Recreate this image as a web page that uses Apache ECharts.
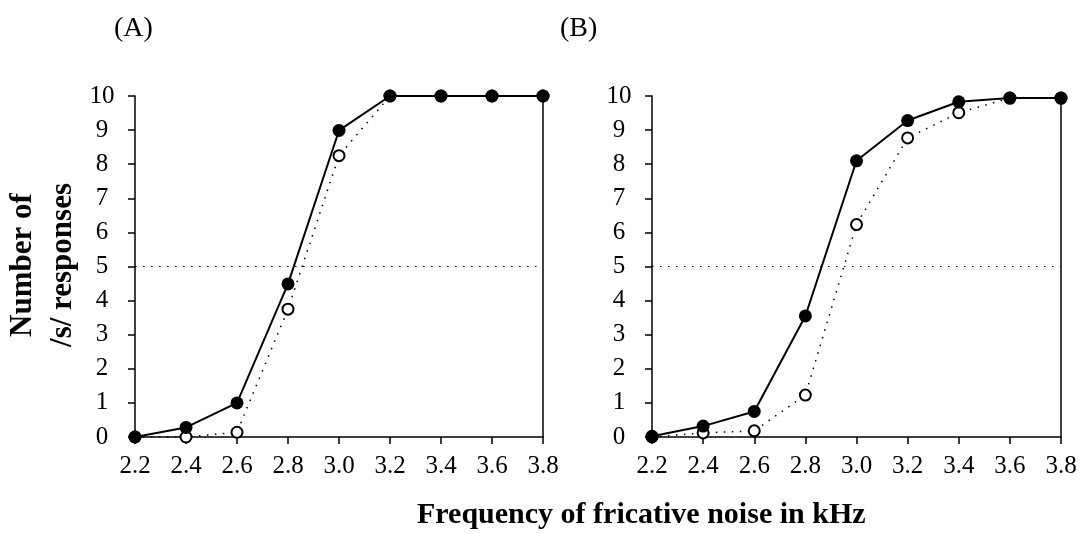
<!DOCTYPE html>
<html><head><meta charset="utf-8">
<script src="https://cdn.jsdelivr.net/npm/echarts@6/dist/echarts.min.js"></script>
<style>html,body{margin:0;padding:0;background:#fff}#c{width:1080px;height:534px}</style>
</head><body><div id="c"></div>
<script>
const categories = ['2.2','2.4','2.6','2.8','3.0','3.2','3.4','3.6','3.8'];
const aFilled = [0, 0.28, 1.0, 4.49, 8.99, 10, 10, 10, 10];
const aOpen   = [0, 0.0, 0.14, 3.75, 8.25, 10, 10, 10, 10];
const bFilled = [0.02, 0.32, 0.75, 3.55, 8.1, 9.28, 9.83, 9.94, 9.94];
const bOpen   = [0, 0.12, 0.18, 1.23, 6.23, 8.77, 9.51, 9.94, 9.94];
const panelLabels = ['(A)', '(B)'];
const xTitle = 'Frequency of fricative noise in kHz';
const yTitle = 'Number of\n/s/ responses';
const refLevel = 5;

const serif = 'Liberation Serif';
const chart = echarts.init(document.getElementById('c'));

function xAxis(gi){
  return {type:'category', gridIndex:gi, data:categories, boundaryGap:false,
    axisLine:{lineStyle:{color:'#000', width:1.5}},
    axisTick:{length:7, lineStyle:{color:'#000', width:1.5}},
    axisLabel:{color:'#000', fontFamily:serif, fontSize:25, margin:17},
    splitLine:{show:false}};
}
function yAxisL(gi){
  return {type:'value', gridIndex:gi, min:0, max:10, interval:1,
    axisLine:{show:true, lineStyle:{color:'#000', width:1.5}},
    axisTick:{show:true, length:7, lineStyle:{color:'#000', width:1.5}},
    axisLabel:{color:'#000', fontFamily:serif, fontSize:25, margin:33, align:'center'},
    splitLine:{show:false}};
}
function yAxisR(gi){
  return {type:'value', gridIndex:gi, min:0, max:10, interval:1, position:'right',
    axisLine:{show:true, lineStyle:{color:'#000', width:1.5}},
    axisTick:{show:false}, axisLabel:{show:false}, splitLine:{show:false}};
}
function openSeries(gi, data){
  return {type:'line', xAxisIndex:gi, yAxisIndex:gi*2, data:data, z:3,
    symbol:'circle', symbolSize:11,
    itemStyle:{color:'#fff', borderColor:'#000', borderWidth:2},
    lineStyle:{color:'#000', width:1.5, type:[1.5,6.5]},
    markLine:{silent:true, symbol:'none', label:{show:false},
      lineStyle:{color:'#000', width:1.2, type:[1.5,6.5]},
      data:[{yAxis:refLevel}]}};
}
function filledSeries(gi, data){
  return {type:'line', xAxisIndex:gi, yAxisIndex:gi*2, data:data, z:4,
    symbol:'circle', symbolSize:13,
    itemStyle:{color:'#000', borderColor:'#000', borderWidth:0},
    lineStyle:{color:'#000', width:2}};
}

chart.setOption({
  animation:false,
  backgroundColor:'#fff',
  grid:[
    {left:135, right:537, top:96, bottom:97},
    {left:652, right:19, top:96, bottom:97}
  ],
  xAxis:[xAxis(0), xAxis(1)],
  yAxis:[yAxisL(0), yAxisR(0), yAxisL(1), yAxisR(1)],
  series:[openSeries(0,aOpen), filledSeries(0,aFilled), openSeries(1,bOpen), filledSeries(1,bFilled)],
  graphic:[
    {type:'text', x:114, y:29, style:{text:panelLabels[0], font:'28px "Liberation Serif"', fill:'#000', verticalAlign:'middle'}},
    {type:'text', x:560, y:29, style:{text:panelLabels[1], font:'28px "Liberation Serif"', fill:'#000', verticalAlign:'middle'}},
    {type:'text', x:417, y:515, style:{text:xTitle, font:'bold 30px "Liberation Serif"', fill:'#000', align:'left', verticalAlign:'middle'}},
    {type:'text', x:43, y:265, rotation:Math.PI/2, style:{text:yTitle, font:'bold 31px "Liberation Serif"', fill:'#000', align:'center', verticalAlign:'middle', lineHeight:40}}
  ]
});
</script></body></html>
